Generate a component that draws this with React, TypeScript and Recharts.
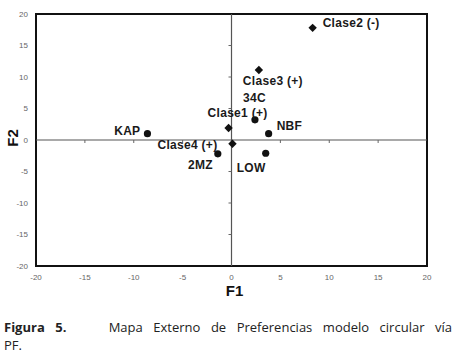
import React from "react";
import {
  ScatterChart,
  Scatter,
  XAxis,
  YAxis,
  ReferenceLine,
  ReferenceArea,
  ReferenceDot,
} from "recharts";

// productos (círculos)
const productNames = ["KAP", "34C", "NBF", "2MZ", "LOW"];
const productF1 = [-8.6, 2.4, 3.8, -1.4, 3.5];
const productF2 = [1.0, 3.2, 1.0, -2.2, -2.1];

// clases (rombos)
const classNames = ["Clase1 (+)", "Clase2 (-)", "Clase3 (+)", "Clase4 (+)"];
const classF1 = [-0.3, 8.3, 2.8, 0.1];
const classF2 = [1.9, 17.8, 11.1, -0.6];

const axisTicks = [-20, -15, -10, -5, 0, 5, 10, 15, 20];
const innerTicks = [-15, -10, -5, 5, 10, 15];

const products = productNames.map((name, i) => ({
  name,
  x: productF1[i],
  y: productF2[i],
}));
const classes = classNames.map((name, i) => ({
  name,
  x: classF1[i],
  y: classF2[i],
}));

// where each label sits relative to its marker
const labelPos: Record<string, { dx: number; dy: number; anchor: string }> = {
  KAP: { dx: -7, dy: -3, anchor: "end" },
  "34C": { dx: -12, dy: -22, anchor: "start" },
  NBF: { dx: 8, dy: -8, anchor: "start" },
  "2MZ": { dx: -5, dy: 11, anchor: "end" },
  LOW: { dx: -29, dy: 15, anchor: "start" },
  "Clase1 (+)": { dx: -21, dy: -15, anchor: "start" },
  "Clase2 (-)": { dx: 10, dy: -5, anchor: "start" },
  "Clase3 (+)": { dx: -16, dy: 11, anchor: "start" },
  "Clase4 (+)": { dx: -15, dy: 1, anchor: "end" },
};

const labelStyle = {
  fontFamily: "'Liberation Sans', Arial, sans-serif",
  fontSize: 12,
  fontWeight: 700,
  fill: "#1a1a1a",
  letterSpacing: 0.3,
};

const PointLabel = ({ cx, cy, name }: any) => {
  const p = labelPos[name] || { dx: 6, dy: 0, anchor: "start" };
  return (
    <text
      x={cx + p.dx}
      y={cy + p.dy}
      textAnchor={p.anchor as any}
      dominantBaseline="central"
      style={labelStyle}
    >
      {name}
    </text>
  );
};

const CircleShape = (props: any) => {
  const { cx, cy, payload } = props;
  return (
    <g>
      <circle cx={cx} cy={cy} r={3.6} fill="#111" />
      <PointLabel cx={cx} cy={cy} name={payload.name} />
    </g>
  );
};

const DiamondShape = (props: any) => {
  const { cx, cy, payload } = props;
  const s = 4.2;
  return (
    <g>
      <polygon
        points={`${cx},${cy - s} ${cx + s},${cy} ${cx},${cy + s} ${cx - s},${cy}`}
        fill="#111"
      />
      <PointLabel cx={cx} cy={cy} name={payload.name} />
    </g>
  );
};

const tickStyle = {
  fontSize: 8,
  fill: "#666",
  fontFamily: "'Liberation Sans', Arial, sans-serif",
};

const F2Label = (props: any) => {
  const { viewBox } = props;
  const cx = viewBox.x + 12;
  const cy = viewBox.y + viewBox.height / 2 - 2;
  return (
    <text
      x={cx}
      y={cy}
      transform={`rotate(-90 ${cx} ${cy})`}
      textAnchor="middle"
      dominantBaseline="central"
      style={{
        fontFamily: "'Liberation Sans', Arial, sans-serif",
        fontSize: 15,
        fontWeight: 700,
        fill: "#111",
      }}
    >
      F2
    </text>
  );
};

export default function App() {
  return (
    <div
      style={{
        position: "absolute",
        left: 0,
        top: 0,
        width: 457,
        height: 357,
        background: "#fff",
      }}
    >
      <ScatterChart
        width={457}
        height={300}
        margin={{ top: 14, right: 30, bottom: 0, left: 0 }}
      >
        <XAxis
          type="number"
          dataKey="x"
          domain={[-20, 20]}
          ticks={axisTicks}
          axisLine={false}
          tickLine={false}
          height={34}
          tick={tickStyle}
          label={{
            value: "F1",
            position: "insideBottom",
            offset: 4,
            dx: 3,
            style: {
              fontFamily: "'Liberation Sans', Arial, sans-serif",
              fontSize: 15,
              fontWeight: 700,
              fill: "#111",
            },
          }}
        />
        <YAxis
          type="number"
          dataKey="y"
          domain={[-20, 20]}
          ticks={axisTicks}
          axisLine={false}
          tickLine={false}
          width={36}
          tick={tickStyle}
          label={<F2Label />}
        />
        <ReferenceLine x={0} stroke="#555" strokeWidth={1.2} />
        <ReferenceLine y={0} stroke="#555" strokeWidth={1.2} />
        {innerTicks.map((t) => (
          <ReferenceDot
            key={"xt" + t}
            x={t}
            y={0}
            shape={(p: any) => (
              <line x1={p.cx} y1={p.cy} x2={p.cx} y2={p.cy + 3} stroke="#666" />
            )}
          />
        ))}
        {innerTicks.map((t) => (
          <ReferenceDot
            key={"yt" + t}
            x={0}
            y={t}
            shape={(p: any) => (
              <line x1={p.cx - 3} y1={p.cy} x2={p.cx} y2={p.cy} stroke="#666" />
            )}
          />
        ))}
        <ReferenceArea
          x1={-20}
          x2={20}
          y1={-20}
          y2={20}
          fill="none"
          stroke="#111"
          strokeWidth={2}
        />
        <Scatter
          data={products}
          shape={<CircleShape />}
          isAnimationActive={false}
        />
        <Scatter
          data={classes}
          shape={<DiamondShape />}
          isAnimationActive={false}
        />
      </ScatterChart>
      <div
        style={{
          position: "absolute",
          left: 4,
          top: 318,
          width: 448,
          fontFamily: "'Open Sans', 'DejaVu Sans', sans-serif",
          fontSize: 13,
          lineHeight: "18px",
          color: "#222",
        }}
      >
        <div style={{ textAlign: "justify", textAlignLast: "justify" as any, whiteSpace: "nowrap" }}>
          <b>Figura 5.</b>
          {"\u00a0\u00a0\u00a0 Mapa Externo de Preferencias modelo circular vía"}
        </div>
        <div>PF.</div>
      </div>
    </div>
  );
}
